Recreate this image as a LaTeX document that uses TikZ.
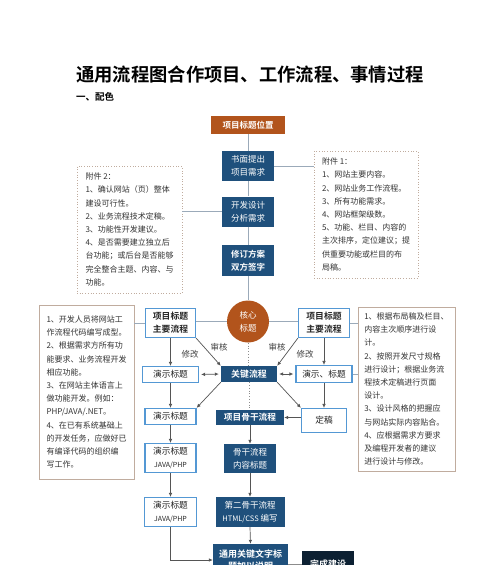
\documentclass[tikz,border=0pt]{standalone}
\usepackage{fontspec}
\setmainfont{Noto Sans CJK SC}[BoldFont={Noto Sans CJK SC Bold}]
\usetikzlibrary{arrows.meta}
\definecolor{dblue}{RGB}{31,80,124}
\definecolor{orng}{RGB}{178,84,28}
\definecolor{lblue}{RGB}{84,152,212}
\definecolor{lnk}{RGB}{155,170,185}
\definecolor{arr}{RGB}{85,85,85}
\definecolor{tbord}{RGB}{192,172,158}
\tikzset{
  darkbox/.style={fill=dblue, text=white, align=center, inner sep=0pt,
    font=\fontsize{8.5}{13.3}\selectfont},
  orbox/.style={fill=orng, text=white, align=center, inner sep=0pt,
    font=\bfseries\fontsize{8.5}{12}\selectfont},
  lightbox/.style={draw=lblue, line width=1.2pt, fill=white, text=black!85,
    align=center, inner sep=0pt, font=\fontsize{8.7}{13.3}\selectfont},
  note/.style={draw=tbord, line width=0.7pt, fill=white, text=black!80,
    align=left, inner sep=0pt, font=\fontsize{8}{13.2}\selectfont},
  dotnote/.style={note, dotted, line width=0.9pt},
  link/.style={draw=lnk, line width=0.8pt},
  dotlink/.style={draw=black!45, dotted, line width=0.8pt},
  arrowline/.style={draw=arr, line width=0.7pt, -{Latex[length=4pt,width=3.6pt]}},
  dblarrow/.style={draw=arr, line width=0.7pt, {Latex[length=4pt,width=3.6pt]}-{Latex[length=4pt,width=3.6pt]},
    shorten <=2pt, shorten >=2pt},
  lbl/.style={text=black!75, inner sep=0pt, font=\fontsize{8.5}{10}\selectfont},
  small/.style={font=\fontsize{7}{10}\selectfont}
}
\begin{document}
\begin{tikzpicture}[x=1pt,y=-1pt]
\useasboundingbox (0,0) rectangle (500,565);
\clip (0,0) rectangle (500,565);
\fill[white] (0,0) rectangle (500,565);

% titles
\node[anchor=west, inner sep=0pt, font=\bfseries\fontsize{18.3}{20}\selectfont] (title) at (76,75) {通用流程图合作项目、工作流程、事情过程};
\node[anchor=west, inner sep=0pt, font=\bfseries\fontsize{9.5}{11}\selectfont] (sub) at (76,97) {一、配色};

% central top column
\node[orbox, minimum width=74pt, minimum height=18pt] (top) at (248,125) {项目标题位置};
\node[darkbox, minimum width=52pt, minimum height=30pt] (b1) at (248,166) {书面提出\\项目需求};
\node[darkbox, minimum width=52pt, minimum height=30pt] (b2) at (248,211.5) {开发设计\\分析需求};
\node[darkbox, minimum width=52pt, minimum height=31pt, font=\bfseries\fontsize{8.5}{13.3}\selectfont] (b3) at (248,260.5) {修订方案\\双方签字};
\node[circle, fill=orng, text=white, minimum size=42pt, inner sep=0pt, align=center,
  font=\fontsize{8.5}{13}\selectfont] (core) at (248,321.5) {核心\\标题};

% attachment notes
\node[dotnote, minimum width=105pt, minimum height=127pt] (att2) at (129.5,229.5) {附件 2：\\1、确认网站（页）整体\\建设可行性。\\2、业务流程技术定稿。\\3、功能性开发建议。\\4、是否需要建立独立后\\台功能；或后台是否能够\\完全整合主题、内容、与\\功能。};
\node[dotnote, minimum width=104pt, minimum height=127pt] (att1) at (366,214.5) {附件 1：\\1、网站主要内容。\\2、网站业务工作流程。\\3、所有功能需求。\\4、网站框架级数。\\5、功能、栏目、内容的\\主次排序，定位建议；提\\供重要功能或栏目的布\\局稿。};

% side notes
\node[note, minimum width=95pt, minimum height=174pt] (lt) at (86.5,392) {1、开发人员将网站工\\作流程代码编写成型。\\2、根据需求方所有功\\能要求、业务流程开发\\相应功能。\\3、在网站主体语言上\\做功能开发。例如：\\PHP/JAVA/.NET。\\4、在已有系统基础上\\的开发任务，应做好已\\有编译代码的组织编\\写工作。};
\node[note, minimum width=97pt, minimum height=164pt] (rt) at (406.5,389) {1、根据布局稿及栏目、\\内容主次顺序进行设\\计。\\2、按照开发尺寸规格\\进行设计；根据业务流\\程技术定稿进行页面\\设计。\\3、设计风格的把握应\\与网站实际内容贴合。\\4、应根据需求方要求\\及编程开发者的建议\\进行设计与修改。};

% left column
\node[lightbox, minimum width=50pt, minimum height=29pt, font=\bfseries\fontsize{8.8}{13.3}\selectfont] (lp) at (170.5,323) {项目标题\\主要流程};
\node[lightbox, minimum width=56pt, minimum height=16pt] (ld1) at (170.5,374.5) {演示标题};
\node[lightbox, minimum width=51pt, minimum height=16pt] (ld2) at (170.5,416.5) {演示标题};
\node[lightbox, minimum width=51pt, minimum height=29pt] (lj1) at (170.5,458) {演示标题\\{\fontsize{7}{10}\selectfont JAVA/PHP}};
\node[lightbox, minimum width=52pt, minimum height=29pt] (lj2) at (170.5,512) {演示标题\\{\fontsize{7}{10}\selectfont JAVA/PHP}};

% right column
\node[lightbox, minimum width=51pt, minimum height=29pt, font=\bfseries\fontsize{8.8}{13.3}\selectfont] (rp) at (324,323) {项目标题\\主要流程};
\node[lightbox, minimum width=56pt, minimum height=17pt] (rd1) at (324,374) {演示、标题};
\node[lightbox, minimum width=45pt, minimum height=24pt] (dg) at (324,420.5) {定稿};

% center lower column
\node[darkbox, minimum width=56pt, minimum height=16pt, font=\bfseries\fontsize{8.9}{12}\selectfont] (key) at (249,374) {关键流程};
\node[darkbox, minimum width=68pt, minimum height=15pt, font=\bfseries\fontsize{8.7}{12}\selectfont] (xg) at (250,417.5) {项目骨干流程};
\node[darkbox, minimum width=52pt, minimum height=29pt] (gg) at (250,458.5) {骨干流程\\内容标题};
\node[darkbox, minimum width=69pt, minimum height=30pt] (de) at (250,512) {第二骨干流程\\{\fontsize{7.5}{10}\selectfont HTML/CSS} 编写};
\node[darkbox, minimum width=75pt, minimum height=32pt, font=\bfseries\fontsize{9}{11.5}\selectfont] (ty) at (250.5,560) {通用关键文字标\\题加以说明};
\node[fill=black!80!blue!70!black, fill=dblue!40!black, text=white, minimum width=52pt, minimum height=26pt, inner sep=0pt,
  font=\bfseries\fontsize{9}{11}\selectfont] (wc) at (328,564) {完成建设};

% connectors
\draw[link] (top) -- (b1);
\draw[link] (b1) -- (b2);
\draw[link] (b2) -- (b3);
\draw[link] (b3) -- (core);
\draw[link] (b1.east) -- (b1.east -| att1.west);
\draw[link] (b2.west) -- (b2.west -| att2.east);
\draw[link] (core.west) -- (core.west -| lp.east);
\draw[link] (core.east) -- (core.east -| rp.west);
\draw[link] (lp.west) -- (lp.west -| lt.east);
\draw[link] (rp.east) -- (rp.east -| rt.west);
\draw[link] (rd1.east) -- (rd1.east -| rt.west);
\draw[dotlink] (core.south) -- (core.south |- key.north);
\draw[dotlink] (key.south) -- (key.south |- xg.north);

\draw[arrowline] (lp.south) -- (ld1.north);
\draw[arrowline] (ld1.south) -- (ld2.north);
\draw[arrowline] (ld2.south) -- (lj1.north);
\draw[arrowline] (lj1.south) -- (lj2.north);
\draw[arrowline] (lj2.south) |- (ty.west);
\draw[arrowline] (lp.south east) -- (key.north west);
\draw[arrowline] (rp.south west) -- (key.north east);
\draw[arrowline] (rp.south) -- (rd1.north);
\draw[arrowline] (rd1.south) -- (dg.north);
\draw[arrowline] (key.south west) -- (ld2.north east);
\draw[arrowline] (key.south east) -- (dg.north west);
\draw[arrowline] (xg.east -| dg.west) -- (xg.east);
\draw[dblarrow] (ld1.east) -- (key.west);
\draw[dblarrow] (key.east) -- (rd1.west);
\draw[arrowline] (xg.south) -- (gg.north);
\draw[arrowline] (gg.south) -- (de.north);
\draw[arrowline] (de.south) -- (ty.north);
\draw[link, draw=black!45] (ty.east |- wc.west) -- (wc.west);

% labels
\node[lbl] (m1) at (190,354) {修改};
\node[lbl] (m2) at (305,354) {修改};
\node[lbl] (s1) at (219,347) {审核};
\node[lbl] (s2) at (277,347) {审核};
\end{tikzpicture}
\end{document}
